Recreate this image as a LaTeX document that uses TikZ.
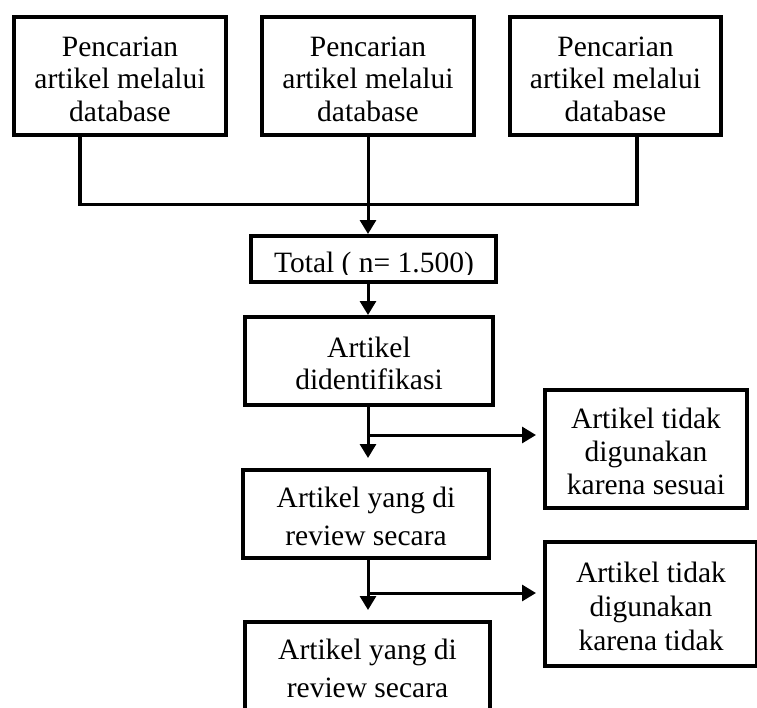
\documentclass[tikz,border=0pt]{standalone}
\usepackage{fontspec}
\setmainfont{Liberation Serif}
\usetikzlibrary{arrows.meta}
\newcommand{\mystrut}{\rule{0pt}{25.5pt}}
\begin{document}
\begin{tikzpicture}[x=1pt,y=-1pt,
  box/.style={draw,line width=4pt,inner sep=0pt,align=center},
  conn/.style={line width=3pt},
  arr/.style={conn,-{Triangle[width=16pt,length=14pt]}},
  fa/.style={font=\fontsize{29.5}{32.5}\selectfont},
  fb/.style={font=\fontsize{29.5}{32}\selectfont},
  fc/.style={font=\fontsize{29.5}{38}\selectfont},
  fd/.style={font=\fontsize{29.5}{33}\selectfont},
  fe/.style={font=\fontsize{29.5}{34}\selectfont}]
\clip (0,0) rectangle (757,707);
\fill[white] (0,0) rectangle (757,707);
% top boxes
\node[box,fa,minimum width=212pt,minimum height=118pt] (s1) at (120,76) {\mystrut Pencarian\\artikel melalui\\database};
\node[box,fa,minimum width=212pt,minimum height=118pt] (s2) at (368,76) {\mystrut Pencarian\\artikel melalui\\database};
\node[box,fa,minimum width=211pt,minimum height=118pt] (s3) at (615.5,76) {\mystrut Pencarian\\artikel melalui\\database};
% total
\node[box,minimum width=245pt,minimum height=46pt] (total) at (373.5,259) {};
\begin{scope}
  \clip (249,236) rectangle (498,274);
  \node[fa,anchor=base,inner sep=0pt] (totaltext) at (374,272.5) {Total ( n= 1.500)};
\end{scope}
% column
\node[box,fb,minimum width=248pt,minimum height=88pt] (ident) at (369,361) {\mystrut Artikel\\didentifikasi};
\node[box,fc,minimum width=246pt,minimum height=88pt] (rev1) at (366,514) {\mystrut Artikel yang di\\review secara};
\node[box,fc,minimum width=245pt,minimum height=88pt] (rev2) at (367.5,666) {\mystrut Artikel yang di\\review secara};
% right boxes
\node[box,fd,minimum width=202pt,minimum height=118pt] (r1) at (646,449) {\mystrut Artikel tidak\\digunakan\\karena sesuai};
\node[box,fe,minimum width=212pt,minimum height=124pt] (r2) at (651,604) {\mystrut Artikel tidak\\digunakan\\karena tidak};
% connectors
\coordinate (j1) at (80,204.5);
\coordinate (j3) at (637,204.5);
\draw[conn,line width=3.5pt] (s1.south -| j1) -- (j1) -- (j3) -- (s3.south -| j3);
\draw[arr] (s2.south) -- (s2.south |- total.north);
\draw[arr] (total.south -| s2.south) -- (s2.south |- ident.north);
\coordinate (b1) at (368,435);
\coordinate (b2) at (368,593);
\draw[arr,shorten >=10pt] (ident.south -| b1) -- (b1 |- rev1.north);
\draw[arr,shorten >=7pt] (b1) -- (b1 -| r1.west);
\draw[arr,shorten >=10pt] (rev1.south -| b2) -- (b2 |- rev2.north);
\draw[arr,shorten >=7pt] (b2) -- (b2 -| r2.west);
\end{tikzpicture}
\end{document}
